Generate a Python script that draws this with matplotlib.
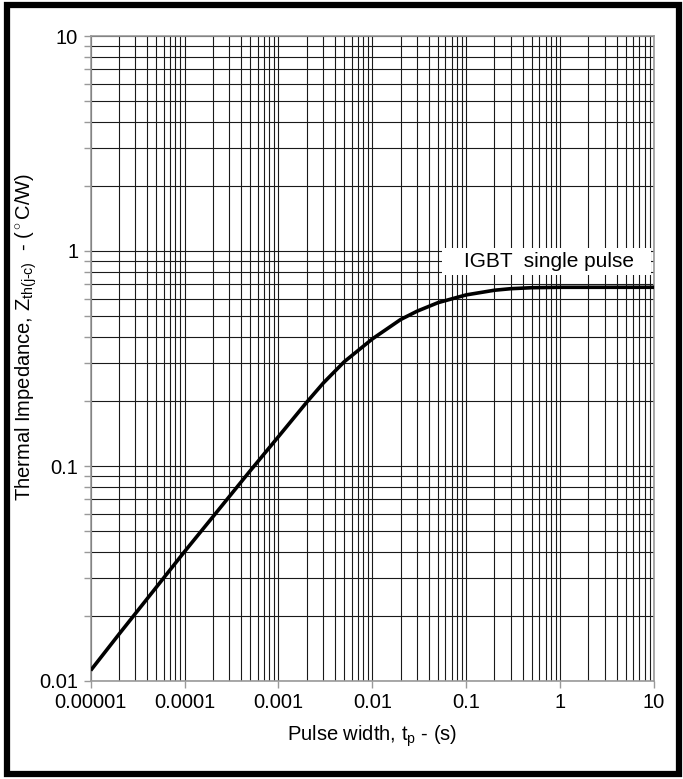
import matplotlib
matplotlib.use("Agg")
import matplotlib.pyplot as plt
from matplotlib.ticker import NullFormatter, LogLocator
from matplotlib.patches import Rectangle

plt.rcParams['font.family'] = ['Liberation Sans', 'DejaVu Sans']
plt.rcParams['mathtext.fontset'] = 'custom'
plt.rcParams['mathtext.rm'] = 'Liberation Sans'
plt.rcParams['mathtext.it'] = 'Liberation Sans'

# pulse width (s) and thermal impedance (C/W)
pulse_width = [1e-5, 2e-5, 5e-5, 1e-4, 2e-4, 5e-4, 1e-3, 2e-3, 3e-3, 5e-3,
               1e-2, 2e-2, 3e-2, 5e-2, 0.1, 0.2, 0.3, 0.5, 1, 2, 5, 10]
z_th = [0.0112, 0.0165, 0.0273, 0.040, 0.058, 0.095, 0.137, 0.198, 0.243, 0.305,
        0.390, 0.480, 0.525, 0.575, 0.625, 0.657, 0.668, 0.675, 0.678, 0.678, 0.678, 0.678]

x_ticks = [1e-5, 1e-4, 1e-3, 1e-2, 0.1, 1, 10]
x_labels = ["0.00001", "0.0001", "0.001", "0.01", "0.1", "1", "10"]
y_ticks = [0.01, 0.1, 1, 10]
y_labels = ["0.01", "0.1", "1", "10"]

W, H = 683, 779
fig = plt.figure(figsize=(W / 100, H / 100), dpi=100)
ax = fig.add_axes([90.7 / W, 1 - 681 / H, (654 - 90.7) / W, (681 - 36) / H])

ax.plot(pulse_width, z_th, color='black', lw=2.6, solid_capstyle='butt',
        solid_joinstyle='round', zorder=3)

ax.set_xscale('log')
ax.set_yscale('log')
ax.set_xlim(1e-5, 10)
ax.set_ylim(0.01, 10)

ax.set_xticks(x_ticks, x_labels)
ax.set_yticks(y_ticks, y_labels)
ax.xaxis.set_minor_locator(LogLocator(base=10, subs=range(2, 10)))
ax.yaxis.set_minor_locator(LogLocator(base=10, subs=range(2, 10)))
ax.xaxis.set_minor_formatter(NullFormatter())
ax.yaxis.set_minor_formatter(NullFormatter())

ax.grid(True, which='both', color='#1a1a1a', lw=0.8)
ax.tick_params(axis='both', which='major', labelsize=14.5, color='#999999',
               length=5, width=1, pad=4)
ax.tick_params(axis='y', which='minor', color='#999999', length=5, width=1)
ax.tick_params(axis='x', which='minor', length=0)
for s in ax.spines.values():
    s.set_color('#999999')
    s.set_linewidth(1.2)

ax.set_xlabel("Pulse width, t$_\\mathregular{p}$ - (s)", fontsize=14.5, labelpad=8)
ax.set_ylabel("Thermal Impedance, Z$_\\mathregular{th(j\\text{-}c)}$  - ($^\\circ$C/W)",
              fontsize=14.5)
ax.yaxis.set_label_coords(-0.092, 0.533)

# label box
ax.add_patch(Rectangle((0.6235, 0.6295), 0.371, 0.0418, transform=ax.transAxes,
                       fc='white', ec='none', zorder=4))
ax.text(0.8136, 0.651, "IGBT  single pulse", transform=ax.transAxes, fontsize=15,
        ha='center', va='center', zorder=5)

# outer frame
fig.patches.append(Rectangle((7 / W, 5 / H), (679 - 7) / W, (774 - 5) / H,
                             transform=fig.transFigure, fill=False,
                             ec='black', lw=4.5))

plt.savefig("out.png", dpi=100)
